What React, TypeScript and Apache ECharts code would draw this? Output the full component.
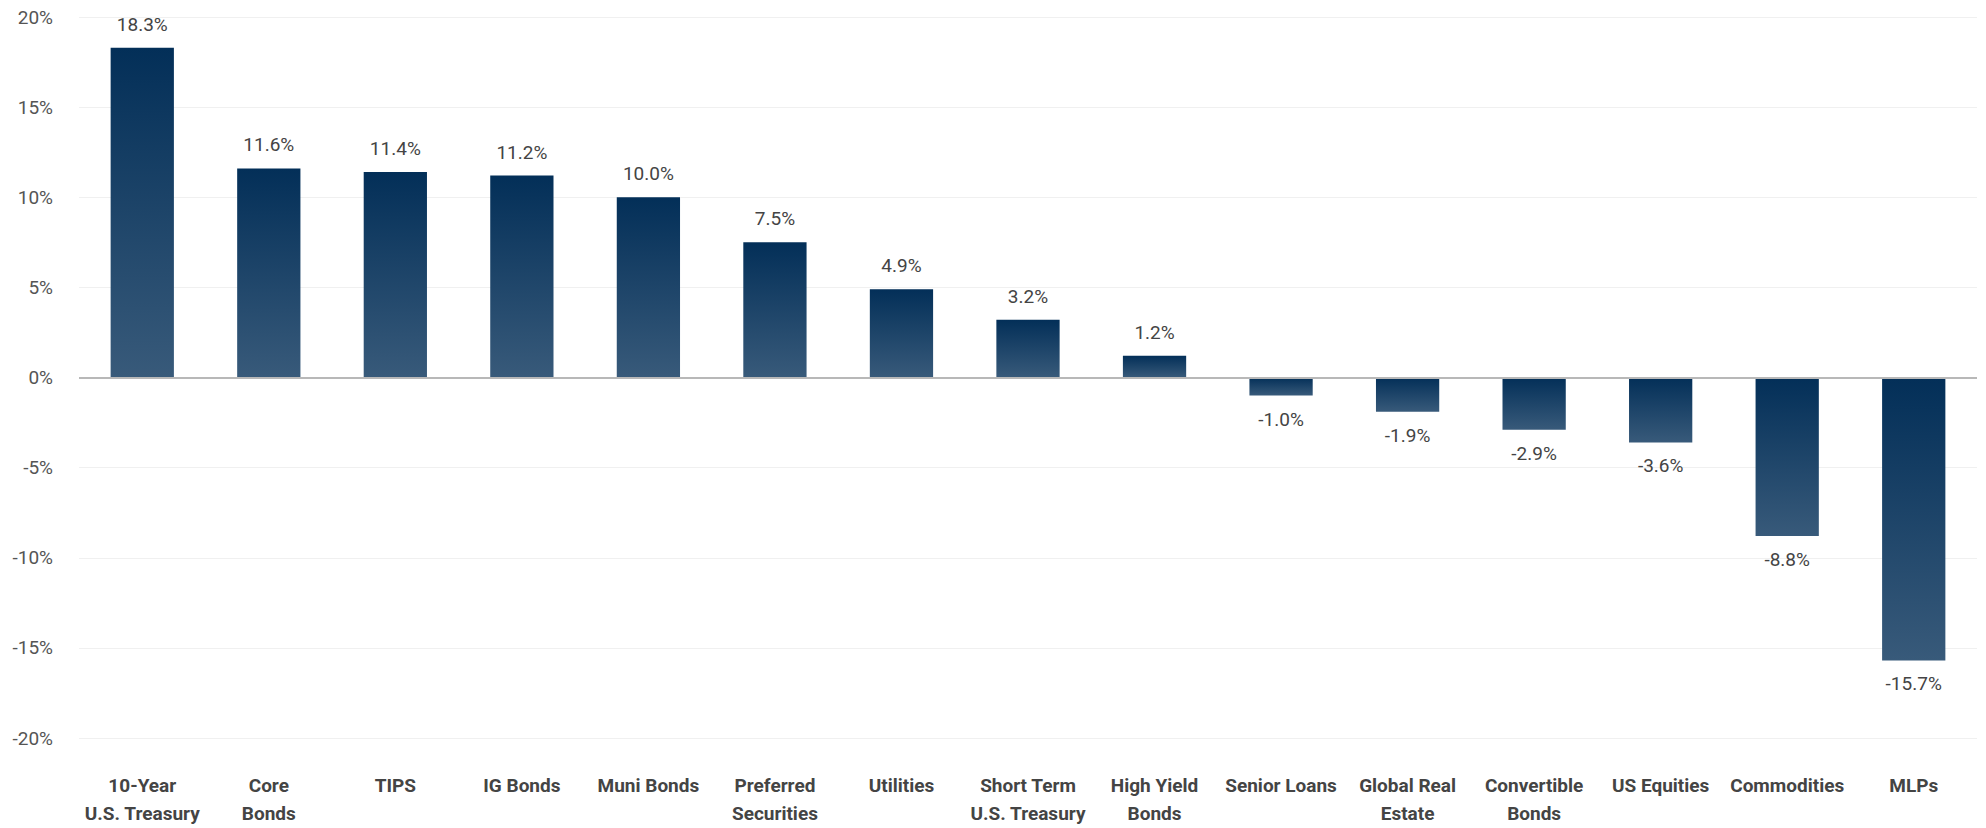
import React, { useEffect, useRef } from "react";
import * as echarts from "echarts";

const categories = [
  "10-Year\nU.S. Treasury",
  "Core\nBonds",
  "TIPS",
  "IG Bonds",
  "Muni Bonds",
  "Preferred\nSecurities",
  "Utilities",
  "Short Term\nU.S. Treasury",
  "High Yield\nBonds",
  "Senior Loans",
  "Global Real\nEstate",
  "Convertible\nBonds",
  "US Equities",
  "Commodities",
  "MLPs",
];
const returns = [18.3, 11.6, 11.4, 11.2, 10.0, 7.5, 4.9, 3.2, 1.2, -1.0, -1.9, -2.9, -3.6, -8.8, -15.7];

const FONT = "Roboto, 'Liberation Sans Narrow', sans-serif";

export default function App() {
  const ref = useRef<HTMLDivElement>(null);
  useEffect(() => {
    document.body.style.margin = "0";
    if (!ref.current) return;
    const chart = echarts.init(ref.current, null, { renderer: "svg" });
    const grad = new echarts.graphic.LinearGradient(0, 0, 0, 1, [
      { offset: 0, color: "#032f58" },
      { offset: 1, color: "#385a7a" },
    ]);
    chart.setOption({
      animation: false,
      backgroundColor: "#ffffff",
      grid: { left: 79, right: 9, top: 17, bottom: 90, containLabel: false },
      xAxis: {
        type: "category",
        data: categories,
        axisLine: { show: false, onZero: false },
        axisTick: { show: false },
        axisLabel: {
          interval: 0,
          margin: 33,
          fontFamily: FONT,
          fontSize: 19,
          fontWeight: "bold",
          color: "#444444",
          lineHeight: 28,
        },
      },
      yAxis: {
        type: "value",
        min: -20,
        max: 20,
        interval: 5,
        axisLine: { show: false },
        axisTick: { show: false },
        splitLine: { show: true, lineStyle: { color: "#f0f0f0", width: 1 } },
        axisLabel: {
          formatter: "{value}%",
          margin: 26,
          fontFamily: FONT,
          fontSize: 19,
          color: "#555555",
        },
      },
      series: [
        {
          type: "bar",
          barWidth: "50%",
          data: returns.map((v) => ({
            value: v,
            label: { position: v >= 0 ? "top" : "bottom" },
          })),
          itemStyle: { color: grad },
          label: {
            show: true,
            distance: 14,
            fontFamily: FONT,
            fontSize: 19,
            color: "#444444",
            formatter: (p: any) => `${Number(p.value).toFixed(1)}%`,
          },
          markLine: {
            silent: true,
            symbol: "none",
            label: { show: false },
            lineStyle: { color: "#b8b8b8", width: 2, type: "solid" },
            data: [{ yAxis: 0 }],
          },
        },
      ],
    });
    return () => chart.dispose();
  }, []);
  return <div ref={ref} style={{ width: 1986, height: 828 }} />;
}
